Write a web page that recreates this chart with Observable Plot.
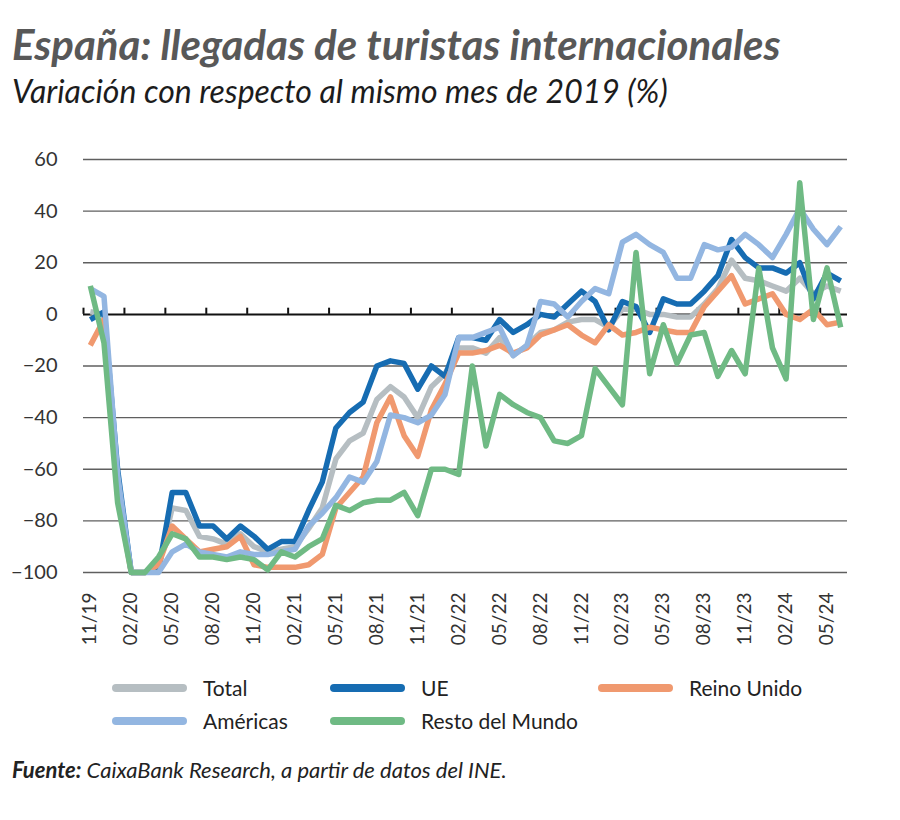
<!DOCTYPE html>
<html lang="es">
<head>
<meta charset="utf-8">
<script src="https://cdn.jsdelivr.net/npm/d3@7"></script>
<script src="https://cdn.jsdelivr.net/npm/@observablehq/plot@0.6"></script>
<style>
  html, body { margin: 0; padding: 0; background: #fff; }
  body { width: 900px; height: 820px; position: relative; overflow: hidden; font-family: Lato, "Open Sans", sans-serif; }
  #title { position: absolute; left: 12px; top: 23px; font-size: 42px; font-weight: 700; font-style: italic; color: #585858; white-space: nowrap; line-height: 1; letter-spacing: 0; }
  #subtitle { position: absolute; left: 12px; top: 75px; font-size: 32px; font-style: italic; color: #1c1c1c; white-space: nowrap; line-height: 1; letter-spacing: 0; }
  #chart { position: absolute; left: 0; top: 135px; }
  #legend { position: absolute; left: 112px; top: 671px; display: grid; grid-template-columns: 218px 268px 200px; grid-auto-rows: 33px; }
  .item { display: flex; align-items: center; font-size: 21px; color: #222; white-space: nowrap; }
  .swatch { width: 75px; height: 8px; border-radius: 4px; margin-right: 16px; flex: none; }
  #source { position: absolute; left: 12px; top: 756px; font-size: 22px; font-style: italic; color: #222; white-space: nowrap; letter-spacing: 0; }
  #source b { font-weight: 700; }
</style>
</head>
<body>
<div id="title">España: llegadas de turistas internacionales</div>
<div id="subtitle">Variación con respecto al mismo mes de 2019 (%)</div>
<div id="chart"></div>
<div id="legend"></div>
<div id="source"><b>Fuente:</b> CaixaBank Research, a partir de datos del INE.</div>
<script>
// Monthly categories on the horizontal axis
const months = [
  "11/19","12/19",
  "01/20","02/20","03/20","04/20","05/20","06/20","07/20","08/20","09/20","10/20","11/20","12/20",
  "01/21","02/21","03/21","04/21","05/21","06/21","07/21","08/21","09/21","10/21","11/21","12/21",
  "01/22","02/22","03/22","04/22","05/22","06/22","07/22","08/22","09/22","10/22","11/22","12/22",
  "01/23","02/23","03/23","04/23","05/23","06/23","07/23","08/23","09/23","10/23","11/23","12/23",
  "01/24","02/24","03/24","04/24","05/24","06/24"
];

// Change versus the same month of 2019 (%), one value per month
const total = [1, 0, -64, -100, -100, -98, -75, -76, -86, -87, -89, -85, -90, -92, -91, -90, -83, -75, -56, -49,
  -46, -33, -28, -32, -40, -28, -23, -13, -13, -15, -9, -16, -12, -7, -6, -3, -2, -2, -5, 2,
  2, 0, 0, -1, -1, 4, 10, 21, 14, 13, 11, 9, 14, 8, 11, 9];
const ue = [-2, 1, -60, -100, -100, -99, -69, -69, -82, -82, -87, -82, -86, -91, -88, -88, -76, -65, -44, -38,
  -34, -20, -18, -19, -29, -20, -24, -9, -9, -10, -2, -7, -4, 0, -1, 4, 9, 5, -6, 5,
  3, -7, 6, 4, 4, 9, 15, 29, 22, 18, 18, 16, 20, 6, 16, 13];
const reinoUnido = [-12, -2, -70, -100, -100, -97, -82, -87, -92, -91, -90, -86, -97, -98, -98, -98, -97, -93, -75, -69,
  -63, -42, -32, -47, -55, -37, -27, -15, -15, -14, -12, -15, -13, -8, -6, -4, -8, -11, -4, -8,
  -7, -5, -6, -7, -7, 3, 9, 15, 4, 6, 8, 0, -2, 2, -4, -3];
const americas = [10, 7, -62, -100, -100, -100, -92, -89, -92, -93, -94, -92, -93, -93, -92, -91, -82, -77, -71, -63,
  -65, -57, -39, -40, -42, -39, -31, -9, -9, -7, -5, -16, -12, 5, 4, -1, 5, 10, 8, 28,
  31, 27, 24, 14, 14, 27, 25, 26, 31, 27, 22, 31, 41, 33, 27, 34];
const restoMundo = [11, -11, -73, -100, -100, -94, -85, -87, -94, -94, -95, -94, -95, -99, -92, -94, -90, -87, -74, -76,
  -73, -72, -72, -69, -78, -60, -60, -62, -20, -51, -31, -35, -38, -40, -49, -50, -47, -21, -28, -35,
  24, -23, -4, -19, -8, -7, -24, -14, -23, 18, -13, -25, 51, -2, 18, -5];

const seriesNames = ["Total", "UE", "Reino Unido", "Américas", "Resto del Mundo"];
const seriesColors = ["#b6bec2", "#166cb2", "#f0996f", "#93b6e1", "#6fba84"];
const yTicks = [60, 40, 20, 0, -20, -40, -60, -80, -100];

// Long table: one row per series and month
const seriesValues = [total, ue, reinoUnido, americas, restoMundo];
const rows = seriesNames.flatMap((name, s) =>
  seriesValues[s].map((v, i) => ({serie: name, i, month: months[i], v}))
);

// Labels every three months; tick marks sit between categories
const labelIdx = months.map((m, i) => i).filter(i => i % 3 === 0);
const tickPos = labelIdx.map(i => i - 0.5);

const chart = Plot.plot({
  width: 900,
  height: 522,
  marginTop: 24,
  marginBottom: 85,
  marginLeft: 83,
  marginRight: 53,
  style: {fontFamily: "Lato, 'Open Sans', sans-serif", color: "#333", background: "transparent"},
  x: {domain: [-0.5, months.length - 0.5]},
  y: {domain: [-100, 60]},
  color: {domain: seriesNames, range: seriesColors},
  marks: [
    Plot.ruleY(yTicks.filter(t => t !== 0), {stroke: "#5f5f5f", strokeWidth: 1.3}),
    Plot.axisY({ticks: yTicks, tickSize: 0, tickPadding: 26, fontSize: 20, label: null, fill: "#333"}),
    Plot.axisX({ticks: labelIdx, tickFormat: i => months[i], tickSize: 0, tickRotate: -90,
      tickPadding: 20, fontSize: 19, label: null, fill: "#333"}),
    Plot.ruleY([0], {stroke: "#111", strokeWidth: 2}),
    Plot.ruleX(tickPos, {x: d => d, y1: 0, y2: 2.4, stroke: "#111", strokeWidth: 2}),
    Plot.line(rows, {x: "i", y: "v", z: "serie", stroke: "serie", strokeWidth: 5.5,
      strokeLinejoin: "round", strokeLinecap: "butt"})
  ]
});
document.getElementById("chart").append(chart);

// Legend built from the series names and colours
const legend = d3.select("#legend");
seriesNames.forEach((name, s) => {
  const item = legend.append("div").attr("class", "item");
  item.append("span").attr("class", "swatch").style("background", seriesColors[s]);
  item.append("span").text(name);
});
</script>
</body>
</html>
